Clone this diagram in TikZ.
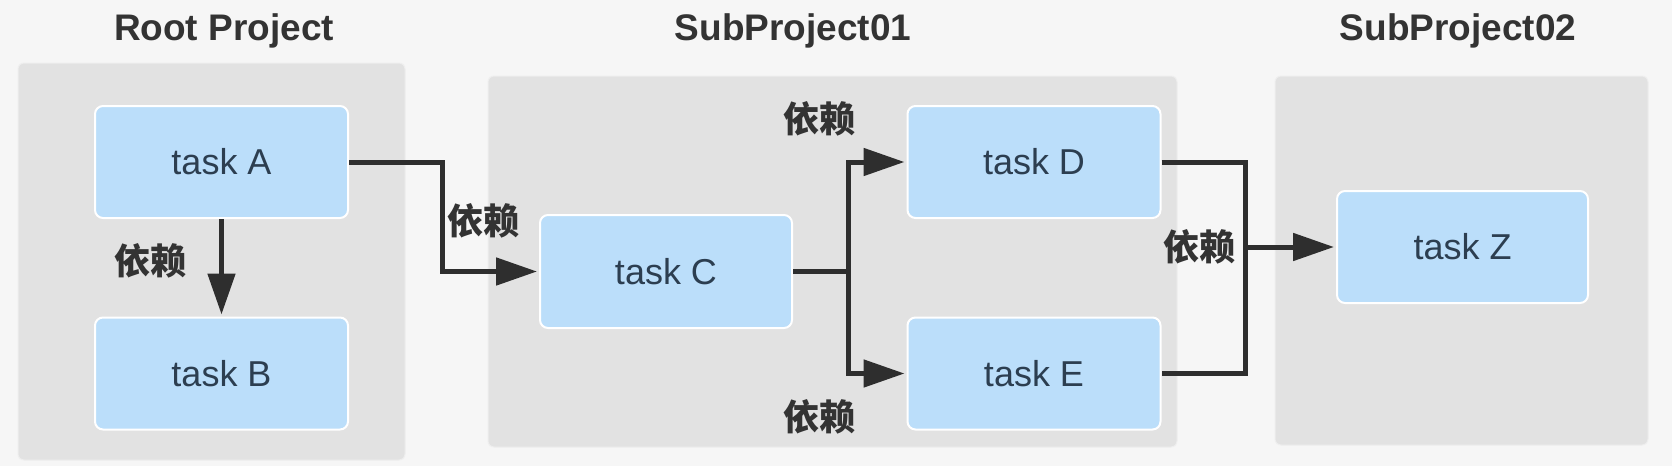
\documentclass[tikz,border=0pt]{standalone}
\usepackage{fontspec}
\setmainfont{Liberation Sans}
\newfontfamily\cjk{Noto Sans CJK SC}
\usetikzlibrary{arrows.meta}
\definecolor{bgc}{HTML}{F6F6F6}
\definecolor{contc}{HTML}{E2E2E2}
\definecolor{taskc}{HTML}{BBDEFA}
\definecolor{tasktext}{HTML}{2C3E50}
\definecolor{linec}{HTML}{2E2E2E}
\definecolor{titlec}{HTML}{333333}
\tikzset{
  container/.style={fill=contc, draw=white!40!contc, line width=1pt, rounded corners=6pt},
  taskbox/.style={fill=taskc, draw=white, line width=2pt, rounded corners=8pt,
    minimum width=253pt, minimum height=112pt, inner sep=0pt,
    text=tasktext, font=\fontsize{36}{40}\selectfont},
  title/.style={text=titlec, font=\fontsize{37}{42}\selectfont\bfseries, inner sep=0pt},
  dep/.style={text=titlec, font=\cjk\bfseries\fontsize{36}{40}\selectfont, inner sep=0pt},
  conn/.style={draw=linec, line width=5pt},
  arr/.style={conn, -{Triangle[length=41pt, width=27pt]}, shorten >=2pt},
}
\begin{document}
\begin{tikzpicture}[x=1pt, y=-1pt]
\useasboundingbox (0,0) rectangle (1672,466);
\fill[bgc] (0,0) rectangle (1672,466);
% containers
\path[container] (18,63) rectangle (405,460);
\path[container] (488,76) rectangle (1177,447);
\path[container] (1275,76) rectangle (1648,445);
% titles
\node[title] (t1) at (224,31) {Root Project};
\node[title] (t2) at (793,31) {SubProject01};
\node[title] (t3) at (1458,31) {SubProject02};
% tasks
\node[taskbox] (A) at (221.5,162) {task A};
\node[taskbox] (B) at (221.5,373.5) {task B};
\node[taskbox, minimum width=252pt, minimum height=113pt] (C) at (666,271.5) {task C};
\node[taskbox] (D) at (1034,162) {task D};
\node[taskbox] (E) at (1034,373.5) {task E};
\node[taskbox, minimum width=251pt] (Z) at (1462.5,247) {task Z};
% junction coordinates
\coordinate (j1) at (442,0);
\coordinate (j2) at (848,0);
\coordinate (j3) at (1245,0);
% connectors
\draw[arr] (A.south) -- (B.north);
\draw[arr] (A.east) -| (j1 |- C.west) -- (C.west);
\draw[conn] (C.east) -- (j2 |- C.east);
\draw[arr] (j2 |- C.east) |- (D.west);
\draw[arr] (j2 |- C.east) |- (E.west);
\draw[conn] (D.east) -| (j3 |- E.east) -- (E.east);
\draw[arr] (j3 |- Z.west) -- (Z.west);
% labels
\node[dep] (l1) at (150,261) {依赖};
\node[dep] (l2) at (483,221) {依赖};
\node[dep] (l3) at (819,119) {依赖};
\node[dep] (l4) at (819,417) {依赖};
\node[dep] (l5) at (1199,247) {依赖};
\end{tikzpicture}
\end{document}
